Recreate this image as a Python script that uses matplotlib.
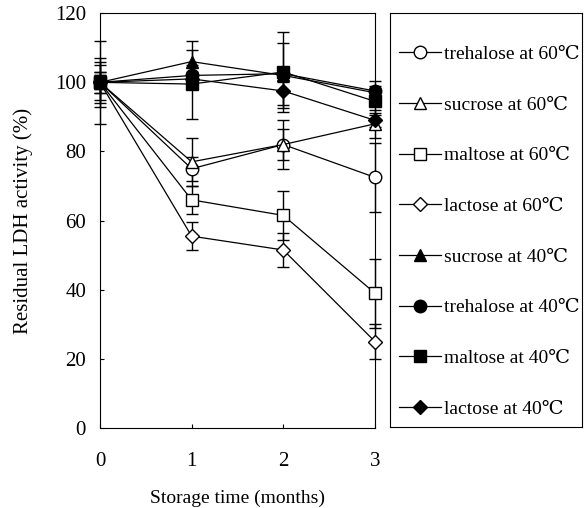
import numpy as np
import matplotlib
matplotlib.use("Agg")
import matplotlib.pyplot as plt
from matplotlib.lines import Line2D

plt.rcParams['font.family'] = ['Liberation Serif', 'DejaVu Serif']

months = [0, 1, 2, 3]

# residual activity (%)
treh60 = [100, 75, 82, 72.5]
sucr60 = [100, 77, 82, 88]
malt60 = [100, 66, 61.5, 39]
lact60 = [100, 55.5, 51.5, 25]
sucr40 = [100, 106, 102, 97]
treh40 = [100, 102, 102.5, 97.5]
malt40 = [100, 99.5, 103, 94.5]
lact40 = [100, 101, 97.5, 89]

# error bars (+/-)
treh60_err = [12, 3.5, 4.5, 10]
sucr60_err = [7, 7, 7, 4]
malt60_err = [5, 4, 7, 10]
lact60_err = [3, 4, 5, 5]
sucr40_err = [6, 6, 2, 2]
treh40_err = [2, 3, 9, 3]
malt40_err = [3, 10, 11.5, 4]
lact40_err = [2, 2, 5, 2]

labels = ["trehalose at 60\u2103", "sucrose at 60\u2103", "maltose at 60\u2103",
          "lactose at 60\u2103", "sucrose at 40\u2103", "trehalose at 40\u2103",
          "maltose at 40\u2103", "lactose at 40\u2103"]

series = [
    (treh60, treh60_err, 'o', 'white'),
    (sucr60, sucr60_err, '^', 'white'),
    (malt60, malt60_err, 's', 'white'),
    (lact60, lact60_err, 'D', 'white'),
    (sucr40, sucr40_err, '^', 'black'),
    (treh40, treh40_err, 'o', 'black'),
    (malt40, malt40_err, 's', 'black'),
    (lact40, lact40_err, 'D', 'black'),
]
msizes = {'o': 9, '^': 9, 's': 9, 'D': 7}

fig = plt.figure(figsize=(5.86, 5.08), dpi=100)
ax = fig.add_axes([0.1706, 0.1575, 0.4693, 0.8165])

handles = []
for (vals, err, m, fc), lab in zip(series, labels):
    ax.errorbar(months, vals, yerr=err, fmt='none', ecolor='black',
                elinewidth=1, capsize=4, capthick=1, clip_on=False, zorder=2)
    ax.plot(months, vals, color='black', lw=0.9, marker=m, ms=msizes[m],
            mfc=fc, mec='black', mew=1, clip_on=False, zorder=3)
    handles.append(Line2D([], [], color='black', lw=0.9, marker=m,
                          ms=msizes[m], mfc=fc, mec='black', mew=1))

ax.set_xlim(0, 3)
ax.set_ylim(0, 120)
ax.set_xticks([0, 1, 2, 3])
ax.set_yticks(np.arange(0, 121, 20))
ax.tick_params(direction='in', length=3, labelsize=15)
ax.tick_params(axis='x', pad=17)
ax.tick_params(axis='y', pad=10)
ax.set_xlabel("Storage time (months)", fontsize=14, labelpad=14)
ax.set_ylabel("Residual LDH activity (%)", fontsize=15, labelpad=16)

lax = fig.add_axes([0.6655, 0.1594, 0.3276, 0.8146])
lax.set_xticks([])
lax.set_yticks([])
lax.legend(handles, labels, loc='upper left', bbox_to_anchor=(0.045, 0.922),
           frameon=False, fontsize=14, labelspacing=1.7, handlelength=2.2,
           handletextpad=0.15, borderaxespad=0, borderpad=0)

fig.savefig("out.png", dpi=100)
